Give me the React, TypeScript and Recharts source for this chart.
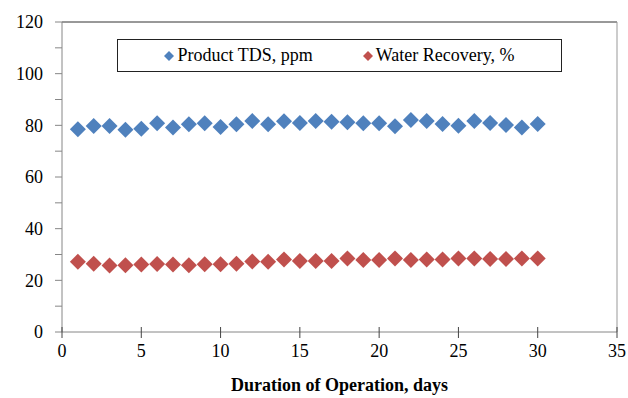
import { ScatterChart, Scatter, XAxis, YAxis, ReferenceLine, Label } from 'recharts';

const days = [1, 2, 3, 4, 5, 6, 7, 8, 9, 10, 11, 12, 13, 14, 15, 16, 17, 18, 19, 20, 21, 22, 23, 24, 25, 26, 27, 28, 29, 30];
const productTds = [78.5, 79.7, 79.7, 78.3, 78.7, 80.8, 79.2, 80.4, 80.8, 79.4, 80.4, 81.7, 80.4, 81.6, 80.9, 81.7, 81.4, 81.2, 80.8, 80.8, 79.6, 82.1, 81.7, 80.5, 79.8, 81.7, 80.9, 80.1, 79.2, 80.5];
const waterRecovery = [27.2, 26.4, 25.7, 25.8, 26.1, 26.3, 26.1, 25.8, 26.2, 26.2, 26.4, 27.3, 27.2, 28.1, 27.5, 27.5, 27.5, 28.5, 27.9, 27.9, 28.5, 27.9, 28.1, 28.1, 28.5, 28.5, 28.3, 28.3, 28.5, 28.5];
const xTicks = [0, 5, 10, 15, 20, 25, 30, 35];
const yTicks = [0, 10, 20, 30, 40, 50, 60, 70, 80, 90, 100, 110, 120];

const BLUE = '#4F81BD';
const RED = '#C0504D';
const AXIS = '#868686';
const FONT = '"Liberation Serif", "Times New Roman", serif';

const tdsData = days.map((d, i) => ({ day: d, value: productTds[i] }));
const recoveryData = days.map((d, i) => ({ day: d, value: waterRecovery[i] }));

// excel style diamond marker
const diamond = (color: string) => (props: any) => {
  const { cx, cy } = props;
  const r = 8;
  return <polygon points={`${cx},${cy - r} ${cx + r},${cy} ${cx},${cy + r} ${cx - r},${cy}`} fill={color} />;
};

const tickText = { fontFamily: FONT, fontSize: 18, fill: '#000' };

const YTick = (props: any) => {
  const { x, y, payload } = props;
  if (payload.value % 20 !== 0) return <g />;
  return (
    <text x={x} y={y} dy="0.35em" textAnchor="end" style={tickText}>
      {payload.value}
    </text>
  );
};

const XTick = (props: any) => {
  const { x, y, payload } = props;
  // y comes in as axis + tickSize + tickMargin (6 + 2)
  const axisY = y - 8;
  return (
    <g>
      <line x1={x} x2={x} y1={axisY - 5} y2={axisY + 6} stroke="#444" />
      <text x={x} y={axisY + 25} textAnchor="middle" style={tickText}>
        {payload.value}
      </text>
    </g>
  );
};

const LegendMark = ({ color }: { color: string }) => (
  <svg width={10} height={10} style={{ marginRight: 3 }}>
    <polygon points="5,0 10,5 5,10 0,5" fill={color} />
  </svg>
);

export default function App() {
  return (
    <div style={{ position: 'absolute', left: 0, top: 0, width: 628, height: 398, background: '#fff' }}>
      <ScatterChart width={628} height={398} margin={{ top: 22, right: 11, bottom: 0, left: 0 }}>
        <XAxis
          type="number"
          dataKey="day"
          domain={[0, 35]}
          ticks={xTicks}
          height={66}
          stroke={AXIS}
          tickLine={false}
          tickSize={6}
          tickMargin={2}
          tick={<XTick />}
        >
          <Label
            value="Duration of Operation, days"
            position="insideBottom"
            offset={7}
            style={{ fontFamily: FONT, fontSize: 18, fontWeight: 'bold', fill: '#000' }}
          />
        </XAxis>
        <YAxis
          type="number"
          dataKey="value"
          domain={[0, 120]}
          ticks={yTicks}
          width={62}
          stroke={AXIS}
          tickSize={7}
          tickMargin={12}
          tick={<YTick />}
        />
        <ReferenceLine y={120} stroke="#333" />
        <ReferenceLine x={35} stroke="#999" />
        <Scatter name="Product TDS, ppm" data={tdsData} fill={BLUE} shape={diamond(BLUE)} isAnimationActive={false} />
        <Scatter name="Water Recovery, %" data={recoveryData} fill={RED} shape={diamond(RED)} isAnimationActive={false} />
      </ScatterChart>
      <div
        style={{
          position: 'absolute',
          left: 117,
          top: 39,
          width: 443,
          height: 31,
          border: '1px solid #222',
          display: 'flex',
          alignItems: 'center',
          justifyContent: 'center',
          gap: 50,
          fontFamily: FONT,
          fontSize: 18,
          background: '#fff',
        }}
      >
        <span style={{ display: 'flex', alignItems: 'center' }}>
          <LegendMark color={BLUE} />
          Product TDS, ppm
        </span>
        <span style={{ display: 'flex', alignItems: 'center' }}>
          <LegendMark color={RED} />
          Water Recovery, %
        </span>
      </div>
    </div>
  );
}
